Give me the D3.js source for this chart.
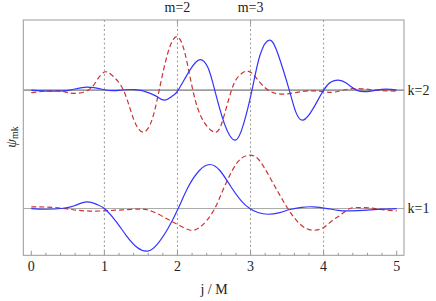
<!DOCTYPE html>
<html><head><meta charset="utf-8">
<script src="https://cdn.jsdelivr.net/npm/d3@7"></script>
<style>
body{margin:0;background:#fff;}
</style></head>
<body><svg id="c" width="436" height="301"></svg>
<script>
// ---- data ----
const xTicks = [0,1,2,3,4,5];
const topTicks = [2,3];
const topLabels = ["m=2","m=3"];
const levels = [2,1];
const levelLabels = ["k=2","k=1"];
const levelOffset = [2.366, 0];

const blue2X = [0,0.26,0.53,0.76,1.0,1.15,1.42,1.62,1.73,1.83,1.93,2.01,2.17,2.31,2.42,2.51,2.65,2.79,2.9,3.02,3.13,3.26,3.38,3.53,3.62,3.72,3.86,4.0,4.1,4.2,4.31,4.45,4.59,4.72,4.86,5.0];
const blue2Y = [0,-0.02,0,0.06,0.006,-0.01,0.01,-0.06,-0.14,-0.2,-0.12,0,0.4,0.61,0.44,0,-0.7,-1.0,-0.7,0,0.7,1.0,0.7,0,-0.44,-0.6,-0.36,0,0.16,0.2,0.14,0,-0.03,0,0.02,0];

const red2X = [0,0.2,0.39,0.57,0.78,0.9,1.0,1.1,1.26,1.4,1.53,1.65,1.75,1.87,1.99,2.1,2.21,2.34,2.51,2.62,2.74,2.84,2.96,3.08,3.24,3.47,3.75,4.0,4.15,4.4,4.7,5.0];
const red2Y = [-0.05,-0.02,-0.014,-0.066,0,0.2,0.36,0.3,0,-0.58,-0.84,-0.6,0,0.75,1.066,0.75,0,-0.58,-0.84,-0.6,0,0.28,0.38,0.24,0,-0.08,-0.02,-0.03,-0.04,0.03,0,-0.02];

const blue1X = [0,0.2,0.44,0.6,0.76,0.9,1.0,1.15,1.3,1.45,1.59,1.72,1.87,2.01,2.15,2.3,2.44,2.58,2.73,2.87,2.99,3.1,3.24,3.4,3.54,3.7,3.86,4.05,4.2,4.36,4.6,4.8,5.0];
const blue1Y = [0,-0.014,0.006,0.06,0.132,0.08,0,-0.24,-0.54,-0.78,-0.85,-0.72,-0.4,0,0.44,0.76,0.88,0.76,0.44,0.16,0,-0.08,-0.114,-0.08,-0.02,0.024,0.034,0,-0.036,-0.046,-0.03,-0.01,0];

const red1X = [0,0.2,0.4,0.6,0.8,1.0,1.2,1.4,1.5,1.6,1.75,1.9,2.03,2.18,2.3,2.4,2.51,2.62,2.75,2.87,2.99,3.11,3.25,3.38,3.51,3.63,3.75,3.87,4.0,4.12,4.24,4.36,4.5,4.65,4.8,5.0];
const red1Y = [0.032,0.03,0.01,-0.03,-0.05,-0.046,-0.03,-0.014,-0.01,-0.03,-0.12,-0.24,-0.34,-0.434,-0.38,-0.24,0,0.36,0.76,1.0,1.066,0.98,0.66,0.32,0,-0.24,-0.39,-0.434,-0.38,-0.24,-0.12,0,0.02,0.01,-0.02,-0.048];

// ---- layout ----
const FONT = "'Liberation Serif','Times New Roman','DejaVu Serif',serif";
const svg = d3.select("#c");
const L = 23.3, R = 404, T = 20, B = 255.3;
const x = d3.scaleLinear().domain([0,5]).range([31.3,396.7]);
const y = d3.scaleLinear().domain([-0.934,3.766]).range([B,T]);

// vertical dashed grid
svg.append("g").selectAll("line").data([1,2,3,4]).join("line")
  .attr("x1",d=>x(d)).attr("x2",d=>x(d)).attr("y1",T).attr("y2",B)
  .attr("stroke","#999").attr("stroke-width",1).attr("stroke-dasharray","2,2.5");

// level baselines
svg.append("g").selectAll("line").data(levelOffset).join("line")
  .attr("x1",L).attr("x2",R).attr("y1",d=>y(d)).attr("y2",d=>y(d))
  .attr("stroke",(d,i)=>i===0?"#555":"#aaa").attr("stroke-width",1);

// curves
const line = d3.line().x(d=>x(d[0])).y(d=>y(d[1])).curve(d3.curveNatural);
const series = [
  {xs:red2X, ys:red2Y, off:levelOffset[0], color:"#cc3333", dash:"5,3"},
  {xs:blue2X, ys:blue2Y, off:levelOffset[0], color:"#3333ff", dash:null},
  {xs:red1X, ys:red1Y, off:levelOffset[1], color:"#cc3333", dash:"5,3"},
  {xs:blue1X, ys:blue1Y, off:levelOffset[1], color:"#3333ff", dash:null}
];
series.forEach(s=>{
  const pts = s.xs.map((v,i)=>[v, s.ys[i]+s.off]);
  svg.append("path").attr("d",line(pts)).attr("fill","none")
    .attr("stroke",s.color).attr("stroke-width",1.2)
    .attr("stroke-dasharray",s.dash);
});

// frame
svg.append("rect").attr("x",L).attr("y",T).attr("width",R-L).attr("height",B-T)
  .attr("fill","none").attr("stroke","#999").attr("stroke-width",1);

// bottom ticks
const minor = d3.range(0,5.001,0.2).filter(v=>Math.abs(v-Math.round(v))>1e-6);
svg.append("g").selectAll("line").data(minor).join("line")
  .attr("x1",d=>x(d)).attr("x2",d=>x(d)).attr("y1",B).attr("y2",B-2.5)
  .attr("stroke","#999");
svg.append("g").selectAll("line").data(xTicks).join("line")
  .attr("x1",d=>x(d)).attr("x2",d=>x(d)).attr("y1",B).attr("y2",B-4.5)
  .attr("stroke","#999");
svg.append("g").selectAll("text").data(xTicks).join("text")
  .attr("x",d=>x(d)).attr("y",271).attr("text-anchor","middle")
  .attr("font-family",FONT).attr("font-size",14).attr("fill","#222").text(d=>d);

// top ticks + labels
svg.append("g").selectAll("line").data(topTicks).join("line")
  .attr("x1",d=>x(d)).attr("x2",d=>x(d)).attr("y1",T).attr("y2",T+4.5)
  .attr("stroke","#999");
svg.append("g").selectAll("text").data(topTicks).join("text")
  .attr("x",d=>x(d)).attr("y",12).attr("text-anchor","middle")
  .attr("font-family",FONT).attr("font-size",14).attr("fill","#222").text((d,i)=>topLabels[i]);

// right labels
svg.append("g").selectAll("text").data(levelOffset).join("text")
  .attr("x",R+3.5).attr("y",d=>y(d)+4.5)
  .attr("font-family",FONT).attr("font-size",14).attr("fill","#222").text((d,i)=>levelLabels[i]);

// axis labels
svg.append("text").attr("x",214).attr("y",294).attr("text-anchor","middle")
  .attr("font-family",FONT).attr("font-size",14).attr("fill","#222").text("j / M");
const yl = svg.append("text").attr("transform","translate(16,137) rotate(-90)")
  .attr("text-anchor","middle").attr("font-family",FONT).attr("font-size",14).attr("fill","#222");
yl.append("tspan").attr("font-style","italic").text("ψ");
yl.append("tspan").attr("font-size",10).attr("dy",2).text("mk");
</script></body></html>
